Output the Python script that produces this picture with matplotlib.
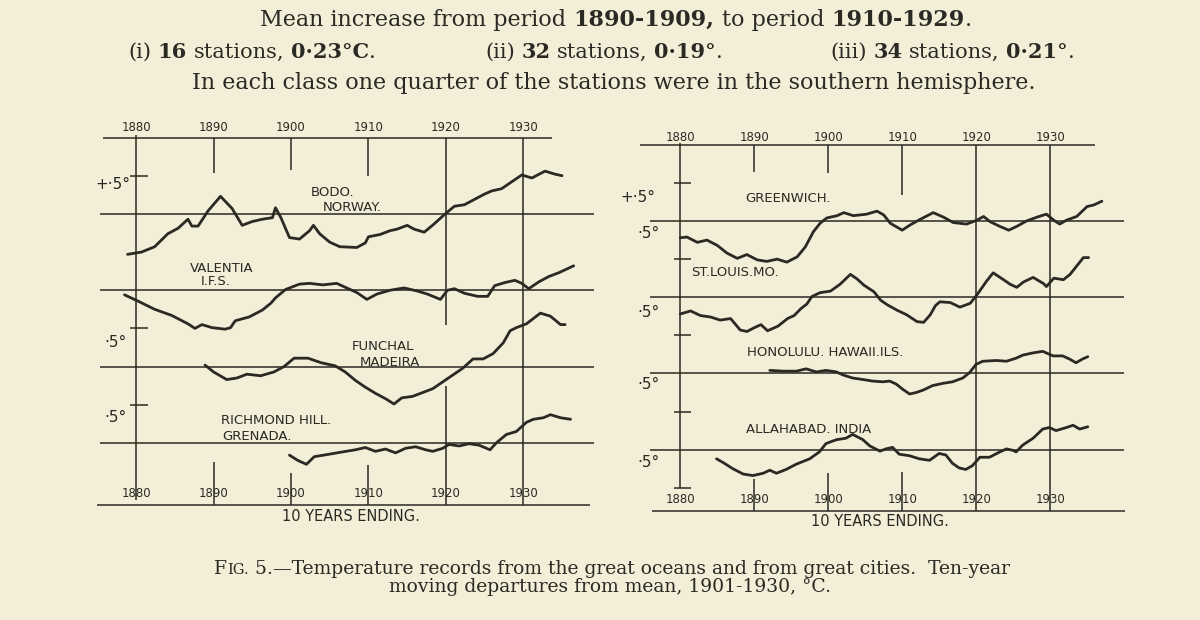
import matplotlib
matplotlib.use("Agg")
import matplotlib.pyplot as plt

INK = "#2b2923"
PAPER = "#f2eed8"

decades = [1880, 1890, 1900, 1910, 1920, 1930]
year_labels = ["1880", "1890", "1900", "1910", "1920", "1930"]

# ten-year moving departures (deg C)
bodo_yr = [1878.9, 1880.7, 1882.4, 1884.1, 1885.4, 1886.7, 1887.2, 1888.0, 1889.3, 1890.9,
           1892.4, 1893.7, 1895.0, 1896.3, 1897.6, 1898.0, 1898.7, 1899.8, 1901.1, 1902.4,
           1902.9, 1903.7, 1905.0, 1906.3, 1908.5, 1909.6, 1910.0, 1911.5, 1912.8, 1913.7,
           1915.0, 1915.9, 1917.2, 1918.5, 1919.8, 1921.1, 1922.4, 1923.7, 1925.0, 1925.9,
           1927.2, 1928.5, 1929.8, 1931.1, 1932.8, 1934.1, 1935.0]
bodo_dep = [-0.53, -0.50, -0.43, -0.26, -0.19, -0.07, -0.16, -0.16, 0.04, 0.23,
            0.07, -0.15, -0.10, -0.07, -0.05, 0.08, -0.05, -0.31, -0.33, -0.22,
            -0.15, -0.26, -0.37, -0.43, -0.44, -0.38, -0.30, -0.27, -0.22, -0.20,
            -0.15, -0.20, -0.24, -0.13, -0.01, 0.10, 0.12, 0.19, 0.26, 0.30,
            0.33, 0.42, 0.51, 0.47, 0.56, 0.52, 0.50]

valentia_yr = [1878.5, 1880.2, 1882.4, 1884.6, 1886.7, 1887.6, 1888.5, 1889.8, 1891.5, 1892.2,
               1892.8, 1894.6, 1896.3, 1897.4, 1898.0, 1899.3, 1901.1, 1902.4, 1904.1, 1905.9,
               1907.2, 1908.5, 1909.8, 1911.1, 1912.8, 1914.6, 1916.3, 1917.6, 1919.3, 1920.2,
               1921.1, 1922.4, 1924.1, 1925.4, 1926.3, 1927.6, 1928.9, 1929.8, 1930.7, 1932.0,
               1933.3, 1934.6, 1936.5]
valentia_dep = [-0.06, -0.14, -0.25, -0.33, -0.44, -0.50, -0.45, -0.49, -0.51, -0.49,
                -0.40, -0.35, -0.26, -0.17, -0.10, 0.01, 0.08, 0.09, 0.07, 0.09,
                0.03, -0.03, -0.12, -0.05, 0.00, 0.03, -0.01, -0.05, -0.12, 0.00,
                0.02, -0.04, -0.08, -0.08, 0.06, 0.10, 0.13, 0.09, 0.02, 0.11,
                0.18, 0.23, 0.32]

funchal_yr = [1888.9, 1890.0, 1891.7, 1893.0, 1894.3, 1896.1, 1897.8, 1899.1, 1900.4, 1902.2,
              1903.9, 1905.7, 1907.0, 1908.3, 1909.6, 1910.9, 1912.2, 1913.3, 1914.3, 1915.7,
              1917.0, 1918.3, 1919.6, 1920.9, 1922.2, 1923.5, 1924.8, 1926.1, 1927.4, 1928.3,
              1929.1, 1930.4, 1932.2, 1933.5, 1934.8, 1935.4]
funchal_dep = [0.02, -0.07, -0.17, -0.15, -0.10, -0.12, -0.07, 0.00, 0.11, 0.11,
               0.05, 0.01, -0.07, -0.18, -0.27, -0.35, -0.42, -0.49, -0.41, -0.39,
               -0.34, -0.29, -0.20, -0.11, -0.02, 0.10, 0.10, 0.17, 0.31, 0.47,
               0.51, 0.56, 0.70, 0.66, 0.55, 0.55]

richmond_yr = [1899.8, 1900.9, 1902.0, 1903.0, 1904.8, 1906.5, 1908.3, 1909.6, 1910.9, 1912.2,
               1913.5, 1914.8, 1916.1, 1917.4, 1918.3, 1919.6, 1920.4, 1921.7, 1923.0, 1924.3,
               1925.7, 1926.5, 1927.8, 1929.1, 1930.4, 1931.3, 1932.6, 1933.5, 1934.8, 1936.1]
richmond_dep = [-0.16, -0.23, -0.28, -0.18, -0.15, -0.12, -0.09, -0.06, -0.11, -0.08,
                -0.13, -0.07, -0.05, -0.09, -0.11, -0.07, -0.02, -0.04, -0.01, -0.03,
                -0.09, 0.00, 0.11, 0.15, 0.27, 0.31, 0.33, 0.37, 0.33, 0.31]

greenwich_yr = [1880.0, 1880.9, 1882.3, 1883.6, 1885.0, 1886.3, 1887.7, 1889.0, 1890.4, 1891.7,
                1893.1, 1894.4, 1895.8, 1896.9, 1898.0, 1898.9, 1899.8, 1901.2, 1902.1, 1903.4,
                1905.2, 1906.6, 1907.5, 1908.4, 1910.0, 1911.1, 1912.4, 1914.2, 1915.6, 1916.9,
                1918.7, 1920.1, 1921.0, 1921.9, 1923.2, 1924.4, 1925.5, 1926.8, 1928.2, 1929.5,
                1930.5, 1931.3, 1932.2, 1933.6, 1935.0, 1935.9, 1937.0]
greenwich_dep = [-0.22, -0.21, -0.28, -0.25, -0.32, -0.42, -0.49, -0.44, -0.51, -0.53,
                 -0.50, -0.54, -0.47, -0.34, -0.14, -0.03, 0.04, 0.07, 0.11, 0.07,
                 0.09, 0.13, 0.08, -0.03, -0.12, -0.05, 0.02, 0.11, 0.05, -0.02,
                 -0.04, 0.01, 0.06, -0.01, -0.07, -0.12, -0.07, 0.00, 0.05, 0.09,
                 0.01, -0.04, 0.01, 0.06, 0.19, 0.21, 0.26]

stlouis_yr = [1880.0, 1881.4, 1882.7, 1884.1, 1885.4, 1886.8, 1888.1, 1889.0, 1890.0, 1890.9,
              1891.8, 1893.2, 1894.5, 1895.4, 1896.3, 1897.1, 1897.8, 1898.9, 1900.3, 1901.6,
              1903.0, 1903.9, 1904.8, 1906.2, 1907.1, 1908.0, 1909.3, 1910.6, 1912.0, 1912.9,
              1913.8, 1914.5, 1915.1, 1916.5, 1917.8, 1919.2, 1920.1, 1921.4, 1922.3, 1923.7,
              1924.6, 1925.5, 1926.4, 1927.7, 1929.1, 1929.5, 1930.5, 1931.8, 1932.7, 1933.6,
              1934.5, 1935.2]
stlouis_dep = [-0.22, -0.18, -0.24, -0.26, -0.30, -0.28, -0.43, -0.45, -0.40, -0.36,
               -0.44, -0.38, -0.28, -0.24, -0.15, -0.09, 0.01, 0.06, 0.08, 0.17,
               0.30, 0.24, 0.16, 0.07, -0.04, -0.10, -0.17, -0.23, -0.32, -0.33,
               -0.23, -0.11, -0.06, -0.07, -0.13, -0.08, 0.03, 0.21, 0.32, 0.23,
               0.17, 0.13, 0.20, 0.26, 0.18, 0.14, 0.25, 0.23, 0.30, 0.41,
               0.52, 0.52]

honolulu_yr = [1892.1, 1893.9, 1895.7, 1897.0, 1898.4, 1899.7, 1901.1, 1902.0, 1903.3, 1904.7,
               1906.0, 1907.4, 1908.3, 1909.2, 1910.1, 1911.0, 1911.9, 1912.8, 1914.1, 1915.5,
               1916.8, 1918.2, 1919.1, 1920.0, 1920.9, 1922.7, 1924.1, 1925.4, 1926.3, 1927.7,
               1929.0, 1930.4, 1931.7, 1932.6, 1933.5, 1934.4, 1935.1]
honolulu_dep = [0.04, 0.03, 0.03, 0.06, 0.02, 0.04, 0.02, -0.02, -0.06, -0.08,
                -0.10, -0.11, -0.10, -0.14, -0.21, -0.27, -0.25, -0.22, -0.16, -0.13,
                -0.11, -0.06, 0.01, 0.12, 0.16, 0.17, 0.16, 0.20, 0.24, 0.27,
                0.29, 0.23, 0.23, 0.19, 0.14, 0.19, 0.22]

allahabad_yr = [1884.9, 1885.8, 1887.1, 1888.5, 1889.8, 1891.2, 1892.1, 1893.0, 1894.3, 1895.7,
                1897.5, 1898.8, 1899.7, 1901.1, 1902.4, 1903.3, 1904.7, 1905.6, 1907.0, 1907.8,
                1908.7, 1909.6, 1911.0, 1912.3, 1913.7, 1915.0, 1915.9, 1916.8, 1917.7, 1918.6,
                1919.5, 1920.5, 1921.8, 1923.2, 1924.1, 1925.0, 1925.4, 1926.3, 1927.7, 1929.0,
                1929.9, 1930.8, 1932.2, 1933.1, 1934.0, 1935.1]
allahabad_dep = [-0.12, -0.17, -0.25, -0.32, -0.34, -0.31, -0.27, -0.31, -0.26, -0.19,
                 -0.12, -0.03, 0.08, 0.13, 0.15, 0.20, 0.13, 0.05, -0.02, 0.01,
                 0.03, -0.06, -0.08, -0.12, -0.14, -0.05, -0.07, -0.18, -0.24, -0.26,
                 -0.21, -0.10, -0.10, -0.03, 0.01, -0.01, -0.03, 0.06, 0.15, 0.27,
                 0.29, 0.25, 0.29, 0.32, 0.27, 0.30]

left_stations = [(bodo_yr, bodo_dep), (valentia_yr, valentia_dep),
                 (funchal_yr, funchal_dep), (richmond_yr, richmond_dep)]
right_stations = [(greenwich_yr, greenwich_dep), (stlouis_yr, stlouis_dep),
                  (honolulu_yr, honolulu_dep), (allahabad_yr, allahabad_dep)]

left_names = [("BODO.", 1905.4, 0.28), ("NORWAY.", 1907.9, 0.08),
              ("VALENTIA", 1891.1, -0.71), ("I.F.S.", 1890.3, -0.89),
              ("FUNCHAL", 1911.9, -1.74), ("MADEIRA", 1912.8, -1.95),
              ("RICHMOND HILL.", 1898.1, -2.70), ("GRENADA.", 1895.6, -2.92)]
right_names = [("GREENWICH.", 1894.5, 0.30), ("ST.LOUIS.MO.", 1887.4, -0.68),
               ("HONOLULU. HAWAII.ILS.", 1899.6, -1.72), ("ALLAHABAD. INDIA", 1897.3, -2.74)]

offsets = [0, -1, -2, -3]
hand = dict(family="DejaVu Sans", color=INK)

fig = plt.figure(figsize=(12, 6.2), dpi=100, facecolor=PAPER)


def panel(rect, xlim, ylim, stations, names, g):
    ax = fig.add_axes(rect)
    ax.set_xlim(*xlim)
    ax.set_ylim(*ylim)
    ax.axis("off")
    lw = 1.1
    ax.hlines(1.0, *g["top"], color=INK, lw=lw)
    ax.hlines(-3.81, *g["bottom"], color=INK, lw=lw)
    for off in offsets:
        ax.hlines(off, *g["base"], color=INK, lw=lw)
    ax.vlines(1880, g["axis_lo"], 1.03, color=INK, lw=lw)
    for seg in g["v1920"]:
        ax.vlines(1920, *seg, color=INK, lw=lw)
    ax.vlines(1930, -3.81, 1.0, color=INK, lw=lw)
    for yr, lo in zip([1890, 1900, 1910], g["top_ticks"]):
        ax.vlines(yr, lo, 1.0, color=INK, lw=lw)
    for yr, hi in zip([1890, 1900, 1910], g["bot_ticks"]):
        ax.vlines(yr, -3.81, hi, color=INK, lw=lw)
    for ty in g["yticks"]:
        ax.hlines(ty, 1879.2, 1881.5, color=INK, lw=lw)
    for s, x, y in g["deg"]:
        ax.text(x, y, s, fontsize=11, ha="center", va="center", **hand)
    for d, lab in zip(decades, year_labels):
        ax.text(d, g["top_lab"], lab, fontsize=8.5, ha="center", va="center", **hand)
        ax.text(d, -3.66, lab, fontsize=8.5, ha="center", va="center", **hand)
    ax.text(g["ending"][0], g["ending"][1], "10 YEARS ENDING.", fontsize=10.5,
            ha="center", va="center", **hand)
    for (yr, dep), off in zip(stations, offsets):
        ax.plot(yr, [v + off for v in dep], color=INK, lw=2.0,
                solid_joinstyle="round", solid_capstyle="round")
    for s, x, y in names:
        ax.text(x, y, s, fontsize=9.5, ha="center", va="center", **hand)
    return ax


panel([0.0792, 0.1452, 0.4292, 0.6613], (1874.7, 1941.2), (-4.14, 1.23),
      left_stations, left_names,
      dict(top=(1875.7, 1933.7), bottom=(1875.0, 1938.6), base=(1875.4, 1939.1),
           axis_lo=-3.75, v1920=[(-1.45, 1.0), (-3.81, -2.25)],
           top_ticks=[0.54, 0.58, 0.50], bot_ticks=[-3.25, -3.40, -3.29],
           yticks=[0.5, -1.5, -2.5],
           deg=[("+·5°", 1877.0, 0.38), ("·5°", 1877.4, -1.69), ("·5°", 1877.4, -2.67)],
           top_lab=1.13, ending=(1907.7, -3.97)))

panel([0.525, 0.1371, 0.4333, 0.6613], (1873.2, 1943.5), (-4.12, 1.26),
      right_stations, right_names,
      dict(top=(1874.6, 1936.1), bottom=(1876.2, 1940.1), base=(1875.9, 1940.0),
           axis_lo=-3.5, v1920=[(-3.81, 1.0)],
           top_ticks=[0.64, 0.63, 0.34], bot_ticks=[-3.39, -3.30, -3.29],
           yticks=[0.5, -0.5, -1.5, -2.5, -3.5],
           deg=[("+·5°", 1874.3, 0.31), ("·5°", 1875.7, -0.16), ("·5°", 1875.7, -1.20),
                ("·5°", 1875.7, -2.15), ("·5°", 1875.7, -3.17)],
           top_lab=1.09, ending=(1907.0, -3.94)))

renderer = fig.canvas.get_renderer()
W = fig.get_figwidth() * fig.dpi
H = fig.get_figheight() * fig.dpi


def line_of(x_px, y_px, words, size, family, ha="left"):
    # words: list of (text, weight, space_after[, size])
    objs = []
    for w in words:
        sz = w[3] if len(w) > 3 else size
        objs.append(fig.text(0, 1 - y_px / H, w[0], fontsize=sz, fontweight=w[1],
                             family=family, color=INK, va="baseline"))
    a = fig.text(0, 0, "a a", fontsize=size, family=family)
    b = fig.text(0, 0, "aa", fontsize=size, family=family)
    gap = a.get_window_extent(renderer).width - b.get_window_extent(renderer).width
    a.remove()
    b.remove()
    widths = [t.get_window_extent(renderer).width for t in objs]
    total = sum(widths) + gap * sum(1 for w in words[:-1] if w[2])
    cur = x_px - total / 2 if ha == "center" else x_px
    for t, wd, w in zip(objs, widths, words):
        t.set_x(cur / W)
        cur += wd + (gap if w[2] else 0)


serif = "DejaVu Serif"
hs = 16
line_of(616, 26, [("Mean increase from period", "normal", True), ("1890-1909,", "bold", True),
                  ("to period", "normal", True), ("1910-1929", "bold", False),
                  (".", "normal", False)], hs, serif, ha="center")
ls = 15
line_of(128, 58, [("(i)", "normal", True), ("16", "bold", True), ("stations,", "normal", True),
                  ("0·23°C", "bold", False), (".", "normal", False)], ls, serif)
line_of(485, 58, [("(ii)", "normal", True), ("32", "bold", True), ("stations,", "normal", True),
                  ("0·19°", "bold", False), (".", "normal", False)], ls, serif)
line_of(830, 58, [("(iii)", "normal", True), ("34", "bold", True), ("stations,", "normal", True),
                  ("0·21°", "bold", False), (".", "normal", False)], ls, serif)
line_of(614, 89, [("In each class one quarter of the stations were in the southern hemisphere.",
                   "normal", False)], hs, serif, ha="center")

cs = 13.5
line_of(612, 574, [("F", "normal", False), ("IG.", "normal", True, 10.5),
                   ("5.—Temperature records from the great oceans and from great cities.  Ten-year",
                    "normal", False)], cs, serif, ha="center")
line_of(610, 592, [("moving departures from mean, 1901-1930, °C.", "normal", False)],
        cs, serif, ha="center")

fig.savefig("out.png", dpi=100, facecolor=PAPER)
